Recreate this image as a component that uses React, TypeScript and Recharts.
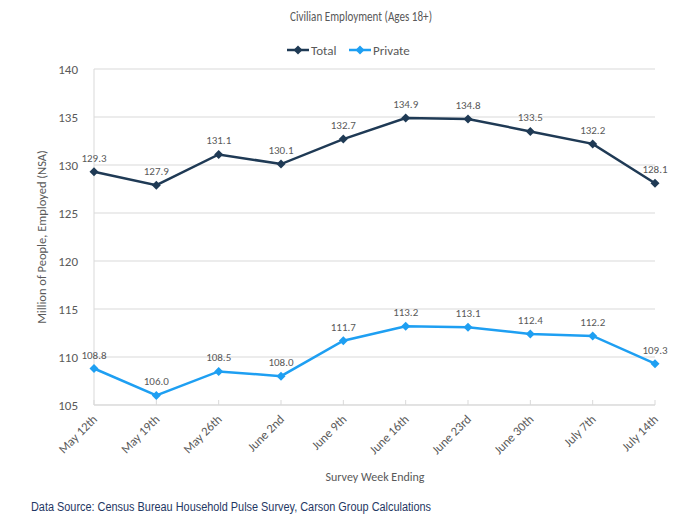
import { LineChart, Line, XAxis, YAxis, CartesianGrid, LabelList } from 'recharts'

const weeks = [
  'May 12th', 'May 19th', 'May 26th', 'June 2nd', 'June 9th',
  'June 16th', 'June 23rd', 'June 30th', 'July 7th', 'July 14th',
]
const total = [129.3, 127.9, 131.1, 130.1, 132.7, 134.9, 134.8, 133.5, 132.2, 128.1]
const privateSector = [108.8, 106.0, 108.5, 108.0, 111.7, 113.2, 113.1, 112.4, 112.2, 109.3]
const yTicks = [105, 110, 115, 120, 125, 130, 135, 140]

const data = weeks.map((w, i) => ({ week: w, total: total[i], private: privateSector[i] }))

const NAVY = '#1f3a55'
const BLUE = '#1e9ff2'
const GREY = '#595959'
const FONT = "Carlito, 'Liberation Sans Narrow', 'Noto Sans', sans-serif"

const Diamond = (props: any) => {
  const { cx, cy, fill } = props
  if (cx == null || cy == null) return null
  const r = 4.5
  return <path d={`M${cx},${cy - r}L${cx + r},${cy}L${cx},${cy + r}L${cx - r},${cy}Z`} fill={fill} />
}

const WeekTick = (props: any) => {
  const { x, y, payload } = props
  return (
    <g>
      <line x1={x} y1={y - 5} x2={x} y2={y} stroke="#d9d9d9" />
      <text
        x={x + 4}
        y={y + 15}
        textAnchor="end"
        transform={`rotate(-45 ${x + 4} ${y + 15})`}
        fill={GREY}
        fontSize={12.5}
        fontFamily={FONT}
      >
        {payload.value}
      </text>
    </g>
  )
}

const PointLabel = (props: any) => {
  const { x, y, value } = props
  return (
    <text x={x} y={y - 10} textAnchor="middle" fill={GREY} fontSize={11} fontFamily={FONT}>
      {Number(value).toFixed(1)}
    </text>
  )
}

const LegendIcon = ({ x, y, color }: { x: number; y: number; color: string }) => (
  <g>
    <line x1={x} y1={y} x2={x + 22} y2={y} stroke={color} strokeWidth={2.5} />
    <path d={`M${x + 11},${y - 4.5}L${x + 15.5},${y}L${x + 11},${y + 4.5}L${x + 6.5},${y}Z`} fill={color} />
  </g>
)

export default function App() {
  return (
    <div style={{ position: 'absolute', left: 0, top: 0, width: 700, height: 517, background: '#fff' }}>
      <LineChart
        width={700}
        height={517}
        data={data}
        margin={{ top: 69, right: 45, left: 0, bottom: 0 }}
      >
        <CartesianGrid vertical={false} stroke="#d9d9d9" />
        <XAxis
          dataKey="week"
          height={112}
          axisLine={{ stroke: '#d9d9d9' }}
          tickLine={false}
          tickSize={0}
          tickMargin={0}
          interval={0}
          tick={<WeekTick />}
        />
        <YAxis
          width={94}
          domain={[105, 140]}
          ticks={yTicks}
          axisLine={{ stroke: '#d9d9d9' }}
          tickLine={false}
          tickMargin={10}
          tick={{ fill: GREY, fontSize: 13, fontFamily: FONT }}
        />
        <Line
          dataKey="total"
          stroke={NAVY}
          strokeWidth={2.5}
          dot={<Diamond fill={NAVY} />}
          activeDot={false}
          isAnimationActive={false}
        >
          <LabelList dataKey="total" content={<PointLabel />} />
        </Line>
        <Line
          dataKey="private"
          stroke={BLUE}
          strokeWidth={2.5}
          dot={<Diamond fill={BLUE} />}
          activeDot={false}
          isAnimationActive={false}
        >
          <LabelList dataKey="private" content={<PointLabel />} />
        </Line>
      </LineChart>
      <svg width={700} height={517} style={{ position: 'absolute', left: 0, top: 0, pointerEvents: 'none' }}>
        <text x={361} y={21} textAnchor="middle" fill={GREY} fontSize={14} fontFamily={FONT}
          textLength={142} lengthAdjust="spacingAndGlyphs">
          Civilian Employment (Ages 18+)
        </text>
        <LegendIcon x={287} y={50} color={NAVY} />
        <text x={311} y={55} fill={GREY} fontSize={13} fontFamily={FONT}>Total</text>
        <LegendIcon x={349} y={50} color={BLUE} />
        <text x={373} y={55} fill={GREY} fontSize={13} fontFamily={FONT}>Private</text>
        <text
          x={46}
          y={237}
          textAnchor="middle"
          transform="rotate(-90 46 237)"
          fill={GREY}
          fontSize={12.5}
          fontFamily={FONT}
        >
          Million of People, Employed (NSA)
        </text>
        <text x={375} y={481} textAnchor="middle" fill={GREY} fontSize={12} fontFamily={FONT}>
          Survey Week Ending
        </text>
        <text x={31} y={511} fill="#1f3864" fontSize={12} fontFamily="'Liberation Sans', Arial, sans-serif"
          textLength={400} lengthAdjust="spacingAndGlyphs">
          Data Source: Census Bureau Household Pulse Survey, Carson Group Calculations
        </text>
      </svg>
    </div>
  )
}
